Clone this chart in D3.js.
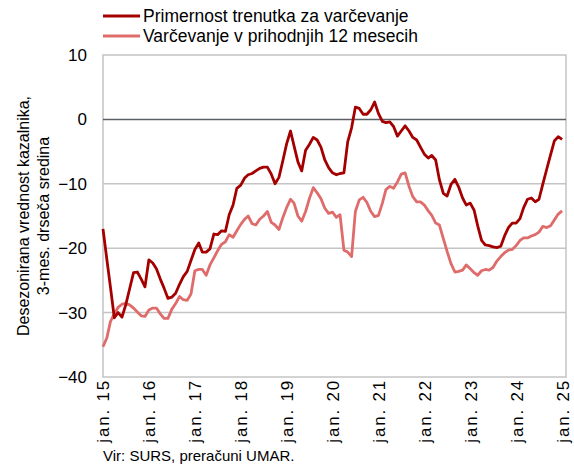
<!DOCTYPE html>
<html>
<head>
<meta charset="utf-8">
<script src="https://cdn.jsdelivr.net/npm/d3@7"></script>
<style>
  body { margin: 0; background: #fff; }
  text { font-family: "Liberation Sans", Arial, sans-serif; fill: #000; }
</style>
</head>
<body>
<div id="chart"></div>
<script>
// monthly values, jan 2015 - jan 2025
const primernost = [
  -17, -21.8, -26, -30.8, -30, -30.7, -28.8, -26.3, -23.8, -23.7, -24.8, -26,
  -21.8, -22.3, -23.2, -24.8, -26.2, -27.8, -27.6, -27, -25.6, -24.4, -23.6, -21.9,
  -20.2, -19.2, -20.6, -20.6, -20.1, -17.8, -17.9, -17.3, -17.4, -14.8, -13.3, -10.7,
  -10.2, -9.1, -8.6, -8.4, -8, -7.6, -7.4, -7.4, -8.5, -10, -9, -6.5,
  -3.8, -1.8, -4.1, -6.6, -8, -4.8, -3.9, -2.8, -3.2, -4.3, -6.3, -7.5,
  -8.3, -8.6, -8.4, -8.3, -3.5, -1.3, 1.9, 1.7, 0.8, 0.8, 1.5, 2.7,
  0.9, -0.3, -0.5, -0.4, -1.1, -2.6, -1.8, -1, -1.8, -2.8, -3.2, -4.3,
  -5.4, -6, -5.6, -6.3, -9.4, -11.5, -11.9, -10.1, -9.3, -10.5, -12.2, -13.3,
  -13, -14.1, -16.5, -18.8, -19.5, -19.6, -19.8, -19.9, -19.7, -18.1, -16.8, -16.1,
  -16.1, -15.4, -13.7, -12.4, -12.2, -12.8, -12.4, -10, -7.7, -5.5, -3.3, -2.7,
  -3.1
];
const varcevanje = [
  -35.3, -33.9, -31.4, -30.2, -29.2, -28.7, -28.6, -28.8, -29.3, -29.9, -30.5, -30.6,
  -29.6, -29.3, -29.3, -30.2, -30.9, -30.9, -29.5, -28.6, -27.5, -28, -28.1, -27.1,
  -23.5, -23.3, -23.3, -24.2, -22.6, -21.5, -20.4, -19.4, -19, -17.9, -18.3, -17.3,
  -16.3, -15.5, -15, -16.2, -16.4, -15.5, -15, -14.3, -16, -16.4, -17.1, -15.3,
  -13.7, -12.4, -13, -15, -15.8, -14.3, -12.3, -10.6, -11.4, -12.3, -13.8, -14.6,
  -14.4, -15.2, -14.8, -20.3, -20.6, -21.3, -14.3, -12.5, -12.1, -12.9, -14.3, -15.1,
  -14.9, -13, -10.9, -10.4, -10.7, -9.7, -8.5, -8.3, -10.4, -12, -12.8, -12.8,
  -13.3, -14.2, -14.9, -16.1, -16.4, -18.5, -20.5, -22.4, -23.7, -23.6, -23.4, -22.6,
  -23.2, -23.8, -24.2, -23.5, -23.3, -23.4, -23, -22, -21.3, -20.7, -20.3, -20.2,
  -19.6, -18.8, -18.4, -18.4, -18.1, -17.9, -17.5, -16.6, -16.8, -16.5, -15.6, -14.7,
  -14.2
];
const seriesNames = ['Primernost trenutka za varčevanje', 'Varčevanje v prihodnjih 12 mesecih'];
const xTickLabels = ['jan. 15', 'jan. 16', 'jan. 17', 'jan. 18', 'jan. 19', 'jan. 20',
  'jan. 21', 'jan. 22', 'jan. 23', 'jan. 24', 'jan. 25'];
const yTicks = [-40, -30, -20, -10, 0, 10];

const width = 574, height = 464;
const plot = { left: 103, right: 566, top: 55, bottom: 377 };
const colors = ['#a50000', '#df6b6b'];

const svg = d3.select('#chart').append('svg')
    .attr('width', width)
    .attr('height', height);

const month = i => new Date(2015, i, 1);

const x = d3.scaleTime()
    .domain([month(0), month(121)])
    .range([plot.left, plot.right]);
const y = d3.scaleLinear()
    .domain([-40, 10])
    .range([plot.bottom, plot.top]);

// gridlines
svg.append('g').selectAll('line')
    .data(yTicks.filter(d => d > -40 && d < 10 && d !== 0))
    .join('line')
    .attr('x1', plot.left).attr('x2', plot.right)
    .attr('y1', d => y(d)).attr('y2', d => y(d))
    .attr('stroke', '#c4c4c4').attr('stroke-width', 1.5);

// plot border
svg.append('rect')
    .attr('x', plot.left).attr('y', plot.top)
    .attr('width', plot.right - plot.left).attr('height', plot.bottom - plot.top)
    .attr('fill', 'none').attr('stroke', '#c4c4c4').attr('stroke-width', 1.5);

// zero line
svg.append('line')
    .attr('x1', plot.left).attr('x2', plot.right)
    .attr('y1', y(0)).attr('y2', y(0))
    .attr('stroke', '#5a5f66').attr('stroke-width', 1.5);

// y axis labels
const yAxis = d3.axisLeft(y).tickValues(yTicks).tickSize(0).tickPadding(16);
svg.append('g')
    .attr('transform', `translate(${plot.left},0)`)
    .call(yAxis)
    .call(g => g.select('.domain').remove())
    .selectAll('text')
    .style('font-size', '17px')
    .attr('fill', '#000');

// x axis labels, rotated
const xAxis = d3.axisBottom(x)
    .tickValues(xTickLabels.map((d, i) => month(i * 12)))
    .tickFormat((d, i) => xTickLabels[i])
    .tickSize(0);
svg.append('g')
    .attr('transform', `translate(0,${plot.bottom})`)
    .call(xAxis)
    .call(g => g.select('.domain').remove())
    .selectAll('text')
    .style('font-size', '17px')
    .style('letter-spacing', '1.8px')
    .attr('fill', '#000')
    .attr('text-anchor', 'end')
    .attr('transform', 'rotate(-90)')
    .attr('x', -2)
    .attr('y', 0)
    .attr('dy', '0.35em');

// lines
const line = d3.line()
    .x((d, i) => x(month(i)))
    .y(d => y(d));

[varcevanje, primernost].forEach((s, k) => {
    svg.append('path')
        .datum(s)
        .attr('fill', 'none')
        .attr('stroke', colors[1 - k])
        .attr('stroke-width', 2.8)
        .attr('stroke-linejoin', 'round')
        .attr('d', line);
});

// y axis title
const yTitle = svg.append('text')
    .attr('transform', 'translate(32,216) rotate(-90)')
    .attr('text-anchor', 'middle')
    .style('font-size', '16px');
yTitle.append('tspan').attr('x', 0).attr('dy', '-0.2em').text('Desezonirana vrednost kazalnika,');
yTitle.append('tspan').attr('x', 0).attr('dy', '1.25em').text('3-mes. drseča sredina');

// legend
const legend = svg.append('g');
seriesNames.forEach((name, i) => {
    const ly = 16 + i * 20;
    legend.append('line')
        .attr('x1', 103).attr('x2', 140)
        .attr('y1', ly).attr('y2', ly)
        .attr('stroke', colors[i]).attr('stroke-width', 3);
    legend.append('text')
        .attr('x', 143).attr('y', ly)
        .attr('dy', '0.35em')
        .style('font-size', '17.5px')
        .text(name);
});

// source
svg.append('text')
    .attr('x', 103).attr('y', 461)
    .style('font-size', '15px')
    .text('Vir: SURS, preračuni UMAR.');
</script>
</body>
</html>
